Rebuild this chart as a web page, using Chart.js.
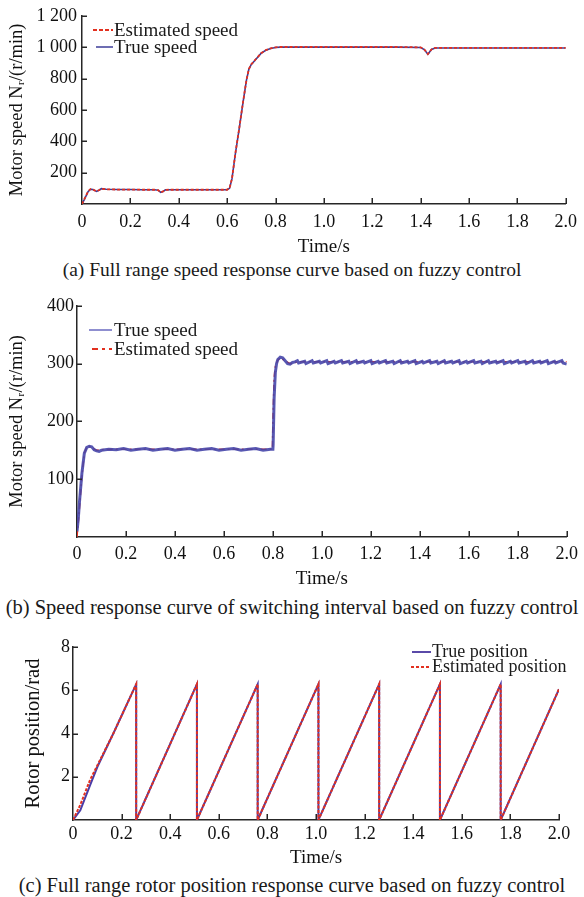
<!DOCTYPE html>
<html>
<head>
<meta charset="utf-8">
<script src="https://cdn.jsdelivr.net/npm/chart.js@4.4.1/dist/chart.umd.min.js"></script>
<style>
  html, body { margin:0; padding:0; background:#ffffff; }
  body { width:584px; height:897px; position:relative; overflow:hidden; font-family:"Liberation Serif", "Times New Roman", serif; color:#1a1a1a; }
  .wrap { position:absolute; left:0; width:584px; }
  canvas { display:block; }
  .cap { position:absolute; left:0; width:584px; text-align:center; font-size:19.5px; line-height:22px; white-space:nowrap; }
  .leg { position:absolute; font-size:19px; line-height:17px; white-space:nowrap; }
  .leg .row { display:flex; align-items:center; height:17px; }
  .leg svg { display:block; margin-right:1px; }
</style>
</head>
<body>
<div class="wrap" style="top:0px;height:258px"><canvas id="ca" width="584" height="258"></canvas></div>
<div class="cap" style="top:259px">(a) Full range speed response curve based on fuzzy control</div>
<div class="wrap" style="top:292px;height:298px"><canvas id="cb" width="584" height="298"></canvas></div>
<div class="cap" style="top:596px;font-size:20.5px">(b) Speed response curve of switching interval based on fuzzy control</div>
<div class="wrap" style="top:630px;height:240px"><canvas id="cc" width="584" height="240"></canvas></div>
<div class="cap" style="top:874px;font-size:20.5px">(c) Full range rotor position response curve based on fuzzy control</div>

<div class="leg" style="left:93px;top:21px">
  <div class="row"><svg width="20" height="4"><line x1="0" y1="2" x2="20" y2="2" stroke="#e2301f" stroke-width="2" stroke-dasharray="4,2"/></svg><span>Estimated speed</span></div>
  <div class="row"><svg width="20" height="4"><line x1="3" y1="2" x2="20" y2="2" stroke="#3c3c98" stroke-width="1.5"/></svg><span>True speed</span></div>
</div>
<div class="leg" style="left:89px;top:321px">
  <div class="row"><svg width="24" height="4"><line x1="0" y1="2" x2="23" y2="2" stroke="#6a6ac0" stroke-width="1.5"/></svg><span>True speed</span></div>
  <div class="row" style="margin-top:2px"><svg width="24" height="4"><line x1="3" y1="2" x2="23" y2="2" stroke="#e2301f" stroke-width="2" stroke-dasharray="6,4,3,4"/></svg><span>Estimated speed</span></div>
</div>
<div class="leg" style="left:411px;top:644px;font-size:18px">
  <div class="row" style="height:15px"><svg width="20" height="4"><line x1="1" y1="2" x2="20" y2="2" stroke="#5a4aa8" stroke-width="2"/></svg><span>True position</span></div>
  <div class="row" style="height:15px"><svg width="20" height="4"><line x1="0" y1="2" x2="20" y2="2" stroke="#e2301f" stroke-width="2" stroke-dasharray="3,2"/></svg><span>Estimated position</span></div>
</div>

<script>
// ---------------- (a) Full range speed ----------------
const timeA = [0, 0.01, 0.025, 0.035, 0.045, 0.06, 0.07, 0.08, 0.1, 0.15, 0.2, 0.25, 0.3, 0.315, 0.325, 0.335, 0.345, 0.36, 0.4, 0.45, 0.5, 0.55, 0.6, 0.61, 0.62, 0.635, 0.65, 0.665, 0.68, 0.69, 0.70, 0.72, 0.74, 0.76, 0.78, 0.80, 0.82, 0.9, 1.0, 1.1, 1.2, 1.3, 1.4, 1.415, 1.43, 1.445, 1.46, 1.5, 1.6, 1.7, 1.8, 1.9, 2.0];
const trueSpeedA = [0, 30, 78, 94, 92, 80, 88, 98, 94, 92, 92, 91, 91, 88, 74, 80, 90, 91, 91, 91, 91, 91, 91, 100, 160, 330, 480, 640, 790, 860, 890, 925, 960, 980, 992, 998, 1000, 1000, 1000, 1000, 1000, 1000, 998, 985, 955, 985, 995, 995, 995, 995, 995, 995, 995];
const estSpeedA = [0, 32, 80, 95, 92, 81, 88, 97, 94, 92, 92, 91, 91, 88, 75, 80, 90, 91, 91, 91, 91, 91, 91, 101, 162, 332, 482, 642, 791, 861, 891, 926, 961, 981, 993, 999, 1001, 1001, 1001, 1001, 1001, 1001, 999, 986, 956, 986, 996, 996, 996, 996, 996, 996, 996];
const yTicksA = [0, 200, 400, 600, 800, 1000, 1200];
const yLabelsA = ['', '200', '400', '600', '800', '1 000', '1 200'];

// ---------------- (b) Switching interval speed ----------------
const timeB = [0, 0.005, 0.01, 0.02, 0.03, 0.04, 0.05, 0.06, 0.07, 0.08, 0.09, 0.10,
  0.13, 0.16, 0.19, 0.22, 0.25, 0.28, 0.31, 0.34, 0.37, 0.40, 0.43, 0.46, 0.49, 0.52, 0.55, 0.58, 0.61, 0.64, 0.67, 0.70, 0.73, 0.76, 0.79, 0.80,
  0.801, 0.805, 0.81, 0.815, 0.82, 0.83, 0.84, 0.85, 0.86, 0.87, 0.88, 0.89,
  0.90, 0.905, 0.93, 0.935, 0.96, 0.965, 0.99, 0.995, 1.02, 1.025, 1.05, 1.055, 1.08, 1.085, 1.11, 1.115, 1.14, 1.145, 1.17, 1.175,
  1.20, 1.205, 1.23, 1.235, 1.26, 1.265, 1.29, 1.295, 1.32, 1.325, 1.35, 1.355, 1.38, 1.385, 1.41, 1.415, 1.44, 1.445, 1.47, 1.475,
  1.50, 1.505, 1.53, 1.535, 1.56, 1.565, 1.59, 1.595, 1.62, 1.625, 1.65, 1.655, 1.68, 1.685, 1.71, 1.715, 1.74, 1.745, 1.77, 1.775,
  1.80, 1.805, 1.83, 1.835, 1.86, 1.865, 1.89, 1.895, 1.92, 1.925, 1.95, 1.955, 1.98, 1.985, 2.0];
const trueSpeedB = [10, 30, 60, 110, 145, 155, 157, 156, 151, 149, 148, 150,
  152, 151, 153, 150, 152, 153, 150, 152, 153, 150, 152, 153, 150, 152, 153, 150, 152, 153, 150, 152, 153, 150, 152, 152,
  160, 240, 285, 300, 307, 311, 310, 305, 300, 299, 302, 303,
  305, 301, 304, 300, 305, 301, 304, 301, 305, 300, 304, 301, 305, 301, 304, 300, 305, 301, 304, 301,
  305, 300, 304, 301, 305, 301, 304, 300, 305, 301, 304, 301, 305, 300, 304, 301, 305, 301, 304, 300,
  305, 301, 304, 301, 305, 300, 304, 301, 305, 301, 304, 300, 305, 301, 304, 301, 305, 300, 304, 301,
  305, 301, 304, 300, 305, 301, 304, 301, 305, 300, 304, 301, 305, 301, 299];
const timeEstB = [0, 0.01, 0.02, 0.03, 0.04, 0.05, 0.06, 0.08, 0.10, 0.15, 0.2, 0.25, 0.3, 0.35, 0.4, 0.45, 0.5, 0.55, 0.6, 0.65, 0.7, 0.75, 0.798, 0.80, 0.805, 0.81, 0.82, 0.83, 0.85, 0.87, 0.90, 1.0, 1.2, 1.4, 1.6, 1.8, 2.0];
const estSpeedB = [0, 50, 105, 145, 156, 157, 155, 150, 151, 152, 152, 152, 152, 152, 152, 152, 152, 152, 152, 152, 152, 152, 152, 200, 275, 295, 306, 310, 305, 300, 303, 303, 303, 303, 303, 303, 303];
const yTicksB = [0, 100, 200, 300, 400];
const yLabelsB = ['', '100', '200', '300', '400'];

// ---------------- (c) Rotor position ----------------
const timeTrueC = [0, 0.03, 0.07, 0.1, 0.166, 0.26, 0.26, 0.51, 0.51, 0.76, 0.76, 1.01, 1.01, 1.26, 1.26, 1.51, 1.51, 1.76, 1.76, 2.0];
const truePosC = [0, 0.45, 1.6, 2.45, 4.0, 6.28, 0, 6.28, 0, 6.28, 0, 6.28, 0, 6.28, 0, 6.28, 0, 6.28, 0, 6.05];
const timeEstC = [0, 0.03, 0.07, 0.166, 0.26, 0.26, 0.51, 0.51, 0.76, 0.76, 1.01, 1.01, 1.26, 1.26, 1.51, 1.51, 1.76, 1.76, 2.0];
const estPosC = [0, 0.7, 1.85, 4.0, 6.28, 0, 6.28, 0, 6.28, 0, 6.28, 0, 6.28, 0, 6.28, 0, 6.28, 0, 6.05];
const yTicksC = [0, 2, 4, 6, 8];
const yLabelsC = ['', '2', '4', '6', '8'];

const xTicks = [0, 0.2, 0.4, 0.6, 0.8, 1.0, 1.2, 1.4, 1.6, 1.8, 2.0];
const xLabels = ['0', '0.2', '0.4', '0.6', '0.8', '1.0', '1.2', '1.4', '1.6', '1.8', '2.0'];

const FONT = "'Liberation Serif', 'Times New Roman', serif";
const AXIS_COLOR = '#262626';
const RED = '#e2301f';

function pts(t, v) { return t.map((x, i) => ({ x: x, y: v[i] })); }

const inwardTicks = {
  id: 'inwardTicks',
  afterDatasetsDraw(chart) {
    const ctx = chart.ctx;
    const xs = chart.scales.x, ys = chart.scales.y;
    ctx.save();
    ctx.strokeStyle = AXIS_COLOR;
    ctx.lineWidth = 1.5;
    xs.ticks.forEach((t, i) => {
      if (i === 0) return;
      const px = Math.round(xs.getPixelForTick(i)) + 0.25;
      ctx.beginPath();
      ctx.moveTo(px, xs.top);
      ctx.lineTo(px, xs.top - 6);
      ctx.stroke();
    });
    ys.ticks.forEach((t, i) => {
      if (t.value === 0) return;
      const py = Math.round(ys.getPixelForTick(i)) + 0.25;
      ctx.beginPath();
      ctx.moveTo(ys.right, py);
      ctx.lineTo(ys.right + 5, py);
      ctx.stroke();
    });
    ctx.restore();
  }
};

function makeChart(id, o) {
  return new Chart(document.getElementById(id), {
    type: 'line',
    data: { datasets: o.datasets },
    options: {
      responsive: false,
      animation: false,
      events: [],
      layout: { padding: { left: 0, right: o.padRight, top: o.padTop, bottom: 0 } },
      plugins: { legend: { display: false }, tooltip: { enabled: false } },
      elements: { point: { radius: 0 }, line: { tension: 0 } },
      scales: {
        x: {
          type: 'linear', min: 0, max: 2.0,
          afterBuildTicks: (s) => { s.ticks = xTicks.map(v => ({ value: v })); },
          afterFit: (s) => { s.height = o.xHeight; },
          grid: { display: true, drawOnChartArea: false, drawTicks: false },
          border: { display: true, color: AXIS_COLOR, width: 1.5 },
          ticks: {
            padding: o.xTickPad, color: '#111', maxRotation: 0, autoSkip: false,
            font: { family: FONT, size: 18 },
            callback: (v) => { const k = xTicks.findIndex(t => Math.abs(t - v) < 1e-9); return k >= 0 ? xLabels[k] : ''; }
          },
          title: { display: true, text: 'Time/s', color: '#111', font: { family: FONT, size: 19 }, padding: { top: 0, bottom: o.xTitlePad } }
        },
        y: {
          type: 'linear', min: o.yMin, max: o.yMax,
          afterBuildTicks: (s) => { s.ticks = o.yTicks.map(v => ({ value: v })); },
          afterFit: (s) => { s.width = o.yWidth; },
          grid: { display: true, drawOnChartArea: false, drawTicks: false },
          border: { display: true, color: AXIS_COLOR, width: 1.5 },
          ticks: {
            padding: o.yTickPad, color: '#111', autoSkip: false,
            font: { family: FONT, size: 18 },
            callback: (v) => { const k = o.yTicks.indexOf(v); return k >= 0 ? o.yLabels[k] : ''; }
          },
          title: { display: true, text: o.yTitle, color: '#111', font: { family: FONT, size: o.yTitleSize }, padding: { top: o.yTitlePad, bottom: 0 } }
        }
      }
    },
    plugins: [inwardTicks]
  });
}

makeChart('ca', {
  padTop: 12, padRight: 15, xHeight: 54, xTickPad: 7, xTitlePad: 0,
  yWidth: 82, yTickPad: 5, yTitlePad: 6.5, yTitleSize: 18.5, yMin: 0, yMax: 1200,
  yTicks: yTicksA, yLabels: yLabelsA, yTitle: 'Motor speed Nᵣ/(r/min)',
  datasets: [
    { label: 'Estimated speed', data: pts(timeA, estSpeedA), borderColor: RED, borderWidth: 1.8, borderDash: [3, 2], order: 0 },
    { label: 'True speed', data: pts(timeA, trueSpeedA), borderColor: '#3c3c98', borderWidth: 1.6, order: 1 }
  ]
});

makeChart('cb', {
  padTop: 13, padRight: 15, xHeight: 53, xTickPad: 6, xTitlePad: 0,
  yWidth: 77, yTickPad: 3, yTitlePad: 6.5, yTitleSize: 18.5, yMin: 0, yMax: 400,
  yTicks: yTicksB, yLabels: yLabelsB, yTitle: 'Motor speed Nᵣ/(r/min)',
  datasets: [
    { label: 'True speed', data: pts(timeB, trueSpeedB), borderColor: 'rgba(70,70,170,0.9)', borderWidth: 3, order: 0 },
    { label: 'Estimated speed', data: pts(timeEstB, estSpeedB), borderColor: RED, borderWidth: 1.5, borderDash: [6, 3, 2, 3], order: 1 }
  ]
});

makeChart('cc', {
  padTop: 17, padRight: 25, xHeight: 50, xTickPad: 3, xTitlePad: 1,
  yWidth: 73, yTickPad: 3, yTitlePad: 21, yTitleSize: 20.5, yMin: 0, yMax: 8,
  yTicks: yTicksC, yLabels: yLabelsC, yTitle: 'Rotor position/rad',
  datasets: [
    { label: 'True position', data: pts(timeTrueC, truePosC), borderColor: '#4a3ca8', borderWidth: 2, order: 1 },
    { label: 'Estimated position', data: pts(timeEstC, estPosC), borderColor: RED, borderWidth: 2, borderDash: [3, 1.5], order: 0 }
  ]
});
</script>
</body>
</html>
